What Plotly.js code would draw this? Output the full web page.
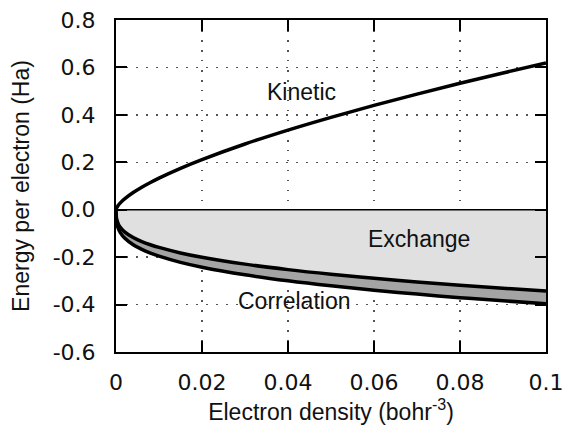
<!DOCTYPE html>
<html>
<head>
<meta charset="utf-8">
<script src="https://cdn.plot.ly/plotly-3.0.1.min.js"></script>
<style>html,body{margin:0;padding:0;background:#fff;}#chart{width:565px;height:435px;}</style>
</head>
<body>
<div id="chart"></div>
<script>
// Electron density (bohr^-3)
const density = [0, 0.0001, 0.0005, 0.001, 0.002, 0.004, 0.006, 0.008, 0.01, 0.015, 0.02, 0.03, 0.04, 0.05, 0.06, 0.07, 0.08, 0.09, 0.1];
// Energy per electron (Ha)
const kinetic = [0, 0.0062, 0.0181, 0.0287, 0.0456, 0.0723, 0.0948, 0.1148, 0.1333, 0.1746, 0.2115, 0.2772, 0.3358, 0.3896, 0.4400, 0.4876, 0.5330, 0.5766, 0.6186];
const exchange = [0, -0.0343, -0.0586, -0.0739, -0.0931, -0.1172, -0.1342, -0.1477, -0.1591, -0.1822, -0.2005, -0.2295, -0.2526, -0.2721, -0.2892, -0.3044, -0.3183, -0.3310, -0.3429];
const correlation = [0, -0.0135, -0.0193, -0.0226, -0.0264, -0.0306, -0.0333, -0.0352, -0.0367, -0.0397, -0.0418, -0.0449, -0.0473, -0.0490, -0.0505, -0.0515, -0.0525, -0.0530, -0.0535];
const xTicks = [0, 0.02, 0.04, 0.06, 0.08, 0.1];
const xTickText = ["0", "0.02", "0.04", "0.06", "0.08", "0.1"];
const yTicks = [-0.6, -0.4, -0.2, 0.0, 0.2, 0.4, 0.6, 0.8];
const yTickText = ["-0.6", "-0.4", "-0.2", "0.0", "0.2", "0.4", "0.6", "0.8"];
const labels = ["Kinetic", "Exchange", "Correlation"];
const labelX = [0.0432, 0.0705, 0.0416];
const labelY = [0.497, -0.122, -0.386];

const zeros = density.map(() => 0);
const xcTotal = exchange.map((v, i) => v + correlation[i]);

const traces = [
  {x: density, y: zeros, mode: 'lines', line: {width: 0, color: 'rgba(0,0,0,0)'}, hoverinfo: 'skip', showlegend: false},
  {x: density, y: exchange, mode: 'lines', fill: 'tonexty', fillcolor: '#dfe0df', line: {color: '#000', width: 3.5, shape: 'spline'}, showlegend: false},
  {x: density, y: xcTotal, mode: 'lines', fill: 'tonexty', fillcolor: '#a4a4a4', line: {color: '#000', width: 3.5, shape: 'spline'}, showlegend: false},
  {x: density, y: zeros, mode: 'lines', line: {color: '#000', width: 1.6}, showlegend: false},
  {x: density, y: kinetic, mode: 'lines', line: {color: '#000', width: 3.5, shape: 'spline'}, showlegend: false}
];

const gridDash = '1.5px,8.5px';
const layout = {
  width: 565, height: 435,
  margin: {l: 116, r: 19, t: 20, b: 83},
  paper_bgcolor: '#ffffff', plot_bgcolor: '#ffffff',
  showlegend: false,
  xaxis: {
    range: [0, 0.1], tickvals: xTicks, ticktext: xTickText,
    ticks: 'inside', ticklen: 11, tickwidth: 2, tickcolor: '#000',
    showline: true, linecolor: '#000', linewidth: 2, mirror: 'ticks',
    showgrid: true, gridcolor: '#555', gridwidth: 1.5, griddash: gridDash,
    zeroline: false,
    tickfont: {family: 'DejaVu Sans', size: 22, color: '#111'},
    ticklabelstandoff: 10,
    title: {text: 'Electron density (bohr<sup>-3</sup>)', font: {family: 'Liberation Sans', size: 23, color: '#111'}, standoff: 8}
  },
  yaxis: {
    range: [-0.6, 0.8], tickvals: yTicks, ticktext: yTickText,
    ticks: 'inside', ticklen: 11, tickwidth: 2, tickcolor: '#000',
    showline: true, linecolor: '#000', linewidth: 2, mirror: 'ticks',
    showgrid: true, gridcolor: '#555', gridwidth: 1.5, griddash: gridDash,
    zeroline: false,
    tickfont: {family: 'DejaVu Sans', size: 22, color: '#111'},
    ticklabelstandoff: 14,
    title: {text: 'Energy per electron (Ha)', font: {family: 'Liberation Sans', size: 23, color: '#111'}, standoff: 17}
  },
  annotations: labels.map((t, i) => ({
    x: labelX[i], y: labelY[i], xref: 'x', yref: 'y', text: t, showarrow: false,
    font: {family: 'Liberation Sans', size: 23, color: '#111'}
  }))
};

Plotly.newPlot('chart', traces, layout, {displayModeBar: false, staticPlot: true});
</script>
</body>
</html>
